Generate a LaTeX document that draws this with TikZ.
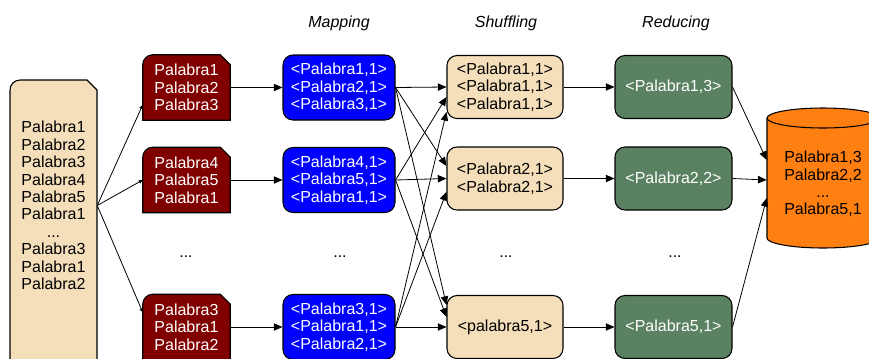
\documentclass[tikz,border=0pt]{standalone}
\usepackage{fontspec}
\setmainfont{Liberation Sans}
\usetikzlibrary{arrows.meta,backgrounds}
\definecolor{wordred}{HTML}{800000}
\definecolor{mapblue}{HTML}{0000FF}
\definecolor{shufwheat}{HTML}{F5DFBB}
\definecolor{reducegreen}{HTML}{5A8262}
\definecolor{dborange}{HTML}{FF7F10}
\tikzset{
  box/.style={inner sep=0pt, align=center, minimum height=48.75pt},
  splitbox/.style={box, text=white, minimum width=65.25pt},
  mapbox/.style={box, draw, line width=0.8pt, fill=mapblue, text=white, rounded corners=7.5pt, minimum width=84pt},
  shufbox/.style={box, draw, line width=0.8pt, fill=shufwheat, rounded corners=7.5pt, minimum width=87pt, minimum height=47.25pt},
  reducebox/.style={box, draw, line width=0.8pt, fill=reducegreen, text=white, rounded corners=7.5pt, minimum width=87.75pt, minimum height=47.25pt},
  arr/.style={-{Triangle[length=6.5pt,width=5.5pt]}, line width=0.6pt},
  thin arr/.style={-{Triangle[length=3pt,width=2.5pt]}, line width=0.6pt},
  phase/.style={font=\fontsize{12}{13.1}\selectfont\itshape},
}

\begin{document}
\begin{tikzpicture}[x=0.75pt, y=-0.75pt, font=\fontsize{12}{13.1}\selectfont]
        \useasboundingbox (0,0) rectangle (869,358);
        \node[box, minimum width=65.25pt] (doc) at (53.5,205.5) {Palabra1\\Palabra2\\Palabra3\\Palabra4\\Palabra5\\Palabra1\\...\\Palabra3\\Palabra1\\Palabra2};
        \node[splitbox] (r1) at (186.5,87.5) {Palabra1\\Palabra2\\Palabra3};
        \node[splitbox] (r2) at (186.5,180) {Palabra4\\Palabra5\\Palabra1};
        \node[splitbox] (r3) at (186.5,327) {Palabra3\\Palabra1\\Palabra2};
        \node[mapbox] (m1) at (339,87.5) {<Palabra1,1>\\<Palabra2,1>\\<Palabra3,1>};
        \node[mapbox] (m2) at (339,180) {<Palabra4,1>\\<Palabra5,1>\\<Palabra1,1>};
        \node[mapbox] (m3) at (339,327) {<Palabra3,1>\\<Palabra1,1>\\<Palabra2,1>};
        \node[shufbox] (s1) at (505,87) {<Palabra1,1>\\<Palabra1,1>\\<Palabra1,1>};
        \node[shufbox] (s2) at (505,178.5) {<Palabra2,1>\\<Palabra2,1>};
        \node[shufbox] (s3) at (505,327) {<palabra5,1>};
        \node[reducebox] (c1) at (673.5,87) {<Palabra1,3>};
        \node[reducebox] (c2) at (673.5,178.5) {<Palabra2,2>};
        \node[reducebox] (c3) at (673.5,327) {<Palabra5,1>};
        \node[inner sep=0pt, align=center, minimum width=84pt] (db) at (823,184) {Palabra1,3\\Palabra2,2\\...\\Palabra5,1};
        \node[phase] (tmap) at (339,23) {Mapping};
        \node[phase] (tshuf) at (506,23) {Shuffling};
        \node[phase] (tred) at (676,23) {Reducing};
        \node (d1) at (186,256.5) {...};
        \node (d2) at (340,256.5) {...};
        \node (d3) at (506,256.5) {...};
        \node (d4) at (675,256.5) {...};
        \begin{scope}[on background layer]
        \draw[line width=0.8pt, fill=shufwheat] (10,370) -- (10,90) arc[start angle=180, end angle=90, radius=7.5pt] -- (87,80) -- (97,90) -- (97,370) -- cycle;
        \foreach \n in {r1,r2,r3}
          \draw[line width=0.8pt, fill=wordred] (\n.south west) -- ([yshift=-7.5pt]\n.north west) arc[start angle=180, end angle=90, radius=7.5pt] -- ([xshift=-7.5pt]\n.north east) -- ([yshift=-7.5pt]\n.north east) -- (\n.south east) -- cycle;
        \draw[line width=0.8pt, fill=dborange] (767,118) -- (767,238) arc[start angle=180, end angle=360, x radius=42pt, y radius=7.5pt] -- (879,118) arc[start angle=0, end angle=180, x radius=42pt, y radius=7.5pt] -- cycle;
        \draw[line width=0.8pt] (767,118) arc[start angle=180, end angle=360, x radius=42pt, y radius=7.5pt];
        \end{scope}
        \draw[thin arr] (doc.east) -- ([yshift=-13pt]r1.west);
        \draw[thin arr] (doc.east) -- (r2.west);
        \draw[thin arr] (doc.east) -- ([yshift=11pt]r3.west);
        \draw[arr] (r1) -- (m1);
        \draw[arr] (r2) -- (m2);
        \draw[arr] (r3) -- (m3);
        \draw[arr] (m1.east) -- (s1.west);
        \draw[arr] (m1.east) -- ([yshift=9.4pt]s2.west);
        \draw[arr] (m1.east) -- ([yshift=16.5pt]s3.west);
        \draw[arr] (m2.east) -- ([yshift=-7.5pt]s1.west);
        \draw[arr] (m2.east) -- (s2.west);
        \draw[arr] (m2.east) -- ([yshift=7.5pt]s3.west);
        \draw[arr] (m3.east) -- ([yshift=-18.75pt]s1.west);
        \draw[arr] (m3.east) -- ([yshift=-10pt]s2.west);
        \draw[arr] (m3.east) -- (s3.west);
        \draw[arr] (s1) -- (c1);
        \draw[arr] (s2) -- (c2);
        \draw[arr] (s3) -- (c3);
        \draw[arr] (c1.east) -- ([yshift=18pt]db.west);
        \draw[arr] (c2.east) -- ([yshift=3pt]db.west);
        \draw[arr] (c3.east) -- ([yshift=-10.5pt]db.west);
    \end{tikzpicture}
\end{document}
